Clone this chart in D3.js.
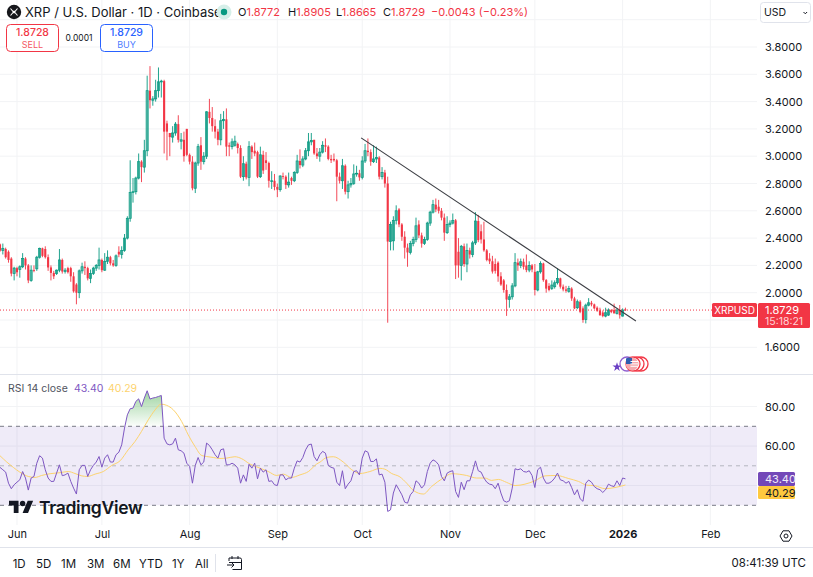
<!DOCTYPE html>
<html>
<head>
<meta charset="utf-8">
<title>XRP / U.S. Dollar</title>
<script src="https://cdn.jsdelivr.net/npm/d3@7/dist/d3.min.js"></script>
<style>
html,body{margin:0;padding:0;background:#fff}
svg{display:block;font-family:Inter,"Noto Sans",sans-serif}
</style>
</head>
<body>
<svg id="chart" width="813" height="577"></svg>
<script>
// Daily candles, one entry per day starting 26 May 2025
const opens = [
2.354,2.31,2.32,2.30,2.25,2.14,2.18,2.17,2.19,2.25,
2.20,2.09,2.165,2.175,2.26,2.325,2.32,2.26,2.185,2.145,
2.14,2.165,2.24,2.155,2.18,2.18,2.12,2.06,2.00,2.16,
2.19,2.18,2.105,2.14,2.18,2.20,2.24,2.165,2.23,2.26,
2.215,2.20,2.30,2.28,2.31,2.40,2.545,2.735,2.74,2.84,
2.96,2.92,3.04,3.48,3.41,3.42,3.48,3.545,3.55,3.24,
3.17,3.14,3.17,3.235,3.11,3.12,3.20,3.01,2.96,2.765,
2.95,3.08,2.96,3.0,3.325,3.28,3.22,3.18,3.12,3.26,
3.27,3.08,3.07,3.08,3.09,3.06,2.85,2.945,2.845,3.07,
3.04,3.03,2.85,3.01,2.97,2.95,2.82,2.82,2.775,2.755,
2.855,2.85,2.79,2.84,2.82,2.88,2.965,2.935,2.98,3.04,
3.105,3.12,3.02,3.0,3.03,3.08,3.07,2.98,2.98,2.97,
2.85,2.82,2.93,2.74,2.79,2.80,2.87,2.875,2.845,2.965,
3.04,3.03,2.96,2.98,2.99,2.85,2.88,2.80,2.375,2.38,
2.53,2.61,2.50,2.41,2.33,2.295,2.36,2.39,2.50,2.42,
2.36,2.39,2.51,2.59,2.645,2.63,2.60,2.55,2.44,2.50,
2.51,2.53,2.30,2.20,2.34,2.21,2.31,2.28,2.365,2.525,
2.45,2.39,2.31,2.25,2.23,2.21,2.22,2.12,2.09,2.02,
1.95,1.97,2.05,2.22,2.20,2.227,2.20,2.166,2.20,2.153,
2.02,2.153,2.214,2.092,2.05,2.03,2.044,2.073,2.105,2.044,
2.024,2.01,2.03,1.958,1.89,1.934,1.885,1.804,1.909,1.926,
1.914,1.89,1.87,1.855,1.829,1.836,1.873,1.873,1.848,1.873,
1.829,1.8772];
const highs = [
2.36,2.36,2.33,2.31,2.26,2.19,2.19,2.20,2.29,2.26,
2.21,2.20,2.20,2.27,2.33,2.33,2.34,2.28,2.20,2.16,
2.17,2.32,2.25,2.18,2.19,2.19,2.15,2.07,2.17,2.22,
2.23,2.19,2.17,2.19,2.21,2.33,2.25,2.29,2.31,2.27,
2.24,2.28,2.34,2.34,2.43,2.56,2.97,2.84,2.85,3.02,
2.97,3.12,3.59,3.66,3.44,3.56,3.65,3.56,3.56,3.26,
3.17,3.22,3.25,3.30,3.17,3.18,3.20,3.02,3.0,2.96,
3.09,3.14,3.03,3.33,3.42,3.36,3.27,3.20,3.31,3.33,
3.35,3.10,3.13,3.15,3.10,3.08,3.0,2.96,3.11,3.08,
3.10,3.04,3.07,3.04,3.03,2.96,2.89,2.87,2.80,2.86,
2.88,2.86,2.88,2.85,2.89,3.01,3.05,3.0,3.06,3.17,
3.17,3.12,3.06,3.06,3.11,3.13,3.08,3.01,3.02,2.98,
2.88,2.98,2.94,2.82,2.84,2.94,2.93,2.90,3.0,3.09,
3.13,3.05,3.08,3.07,3.0,2.92,2.90,2.85,2.52,2.56,
2.64,2.62,2.51,2.45,2.36,2.38,2.41,2.55,2.53,2.44,
2.41,2.52,2.60,2.68,2.69,2.68,2.62,2.58,2.56,2.53,
2.58,2.54,2.40,2.35,2.36,2.36,2.33,2.38,2.59,2.57,
2.50,2.52,2.32,2.29,2.27,2.25,2.23,2.15,2.10,2.06,
1.99,2.07,2.29,2.25,2.25,2.25,2.28,2.23,2.21,2.21,
2.16,2.23,2.22,2.10,2.07,2.09,2.09,2.18,2.11,2.06,
2.05,2.05,2.04,1.97,1.95,1.945,1.90,1.92,1.96,1.94,
1.92,1.90,1.89,1.87,1.89,1.885,1.88,1.92,1.88,1.91,
1.885,1.8905];
const lows = [
2.30,2.28,2.25,2.22,2.12,2.09,2.12,2.11,2.18,2.17,
2.07,2.08,2.15,2.16,2.25,2.26,2.25,2.16,2.09,2.10,
2.13,2.15,2.14,2.14,2.14,2.08,2.00,1.915,1.96,2.14,
2.13,2.09,2.07,2.13,2.16,2.17,2.15,2.16,2.21,2.20,
2.19,2.19,2.26,2.25,2.30,2.39,2.52,2.66,2.72,2.83,
2.81,2.88,3.0,3.35,3.37,3.40,3.43,3.43,3.02,2.97,
3.0,3.10,3.15,3.10,3.05,2.96,3.0,2.94,2.75,2.73,
2.93,2.90,2.94,2.98,3.24,3.18,3.13,3.08,3.08,3.20,
3.0,3.0,3.05,3.07,3.02,2.84,2.82,2.83,2.78,2.98,
3.0,2.84,2.84,2.87,2.90,2.77,2.76,2.75,2.70,2.74,
2.83,2.76,2.77,2.79,2.81,2.87,2.91,2.92,2.97,3.0,
3.08,3.01,2.98,2.96,3.02,3.03,2.97,2.95,2.96,2.67,
2.80,2.76,2.72,2.69,2.77,2.79,2.85,2.82,2.83,2.95,
3.0,2.93,2.95,2.95,2.83,2.83,2.77,1.78,2.31,2.31,
2.50,2.48,2.38,2.25,2.19,2.28,2.34,2.37,2.40,2.33,
2.35,2.38,2.49,2.58,2.59,2.58,2.53,2.38,2.43,2.48,
2.50,2.10,2.11,2.09,2.19,2.15,2.25,2.26,2.35,2.37,
2.36,2.30,2.23,2.21,2.14,2.14,2.08,2.05,2.0,1.83,
1.89,1.95,2.04,2.16,2.18,2.17,2.15,2.15,2.15,1.98,
2.01,2.14,2.08,2.0,2.01,2.02,2.03,2.06,2.03,2.01,
2.0,2.0,1.94,1.88,1.88,1.85,1.78,1.775,1.90,1.90,
1.88,1.86,1.83,1.82,1.82,1.83,1.85,1.85,1.84,1.81,
1.825,1.8665];
const closes = [
2.308,2.325,2.26,2.24,2.14,2.18,2.15,2.19,2.25,2.20,
2.09,2.165,2.16,2.26,2.325,2.27,2.26,2.185,2.145,2.12,
2.165,2.24,2.155,2.165,2.15,2.12,2.01,2.00,2.16,2.19,
2.18,2.105,2.14,2.18,2.20,2.24,2.165,2.23,2.26,2.215,
2.20,2.27,2.28,2.31,2.40,2.545,2.735,2.74,2.84,2.96,
2.92,3.04,3.48,3.41,3.42,3.48,3.545,3.55,3.18,3.18,
3.14,3.17,3.235,3.12,3.12,3.0,3.01,2.96,2.765,2.95,
3.07,2.96,3.0,3.325,3.28,3.22,3.18,3.12,3.26,3.27,
3.07,3.07,3.105,3.11,3.06,2.85,2.945,2.845,3.07,3.03,
3.02,2.85,3.01,2.895,2.95,2.82,2.82,2.775,2.755,2.855,
2.85,2.79,2.81,2.82,2.88,2.965,2.935,2.98,3.04,3.105,
3.115,3.02,3.0,3.03,3.08,3.07,2.98,2.97,2.97,2.85,
2.82,2.93,2.74,2.79,2.80,2.87,2.875,2.845,2.965,3.04,
3.03,2.96,2.98,2.99,2.85,2.88,2.80,2.375,2.50,2.53,
2.60,2.50,2.41,2.33,2.295,2.36,2.39,2.49,2.42,2.36,
2.39,2.51,2.59,2.645,2.61,2.60,2.55,2.44,2.50,2.51,
2.53,2.20,2.20,2.34,2.21,2.31,2.28,2.365,2.525,2.385,
2.39,2.31,2.24,2.23,2.155,2.16,2.12,2.06,2.02,1.95,
1.97,2.05,2.22,2.20,2.227,2.19,2.166,2.20,2.17,2.02,
2.153,2.214,2.092,2.03,2.02,2.056,2.073,2.105,2.044,2.024,
2.014,2.03,1.958,1.885,1.934,1.86,1.80,1.909,1.926,1.914,
1.885,1.868,1.836,1.829,1.853,1.873,1.858,1.848,1.873,1.836,
1.873,1.8729];

// RSI(14) of the close, same daily sequence
const rsi = [
49.2,48.0,46.8,41.2,38.4,40.4,41.7,42.9,47.1,43.8,
37.7,43.8,44.6,51.3,55.1,53.9,48.0,43.8,42.1,42.1,
46.3,50.5,45.0,45.4,46.3,42.1,38.7,35.7,48.0,50.2,
50.2,44.6,48.0,50.2,51.9,54.7,49.3,53.9,55.6,51.9,
51.9,55.6,56.9,60.6,69.1,75.8,78.9,79.2,82.6,83.9,
80.0,84.3,88.0,83.8,84.3,84.6,85.1,85.6,64.0,61.1,
60.6,61.1,64.0,58.1,57.6,56.4,51.3,49.7,41.2,50.2,
54.2,50.5,51.9,61.5,60.3,58.1,55.6,53.9,58.1,58.6,
50.5,50.5,51.3,50.5,48.8,41.2,45.4,42.1,50.8,48.8,
51.3,43.4,48.8,46.8,48.0,42.1,42.4,40.4,40.0,45.4,
45.4,42.9,43.8,43.8,48.8,52.5,51.9,54.2,58.1,60.6,
61.0,54.7,52.5,55.6,57.3,56.4,50.2,49.2,48.8,41.7,
40.0,47.5,38.4,40.7,42.4,47.1,47.5,45.4,53.9,57.6,
56.9,52.2,52.2,53.5,45.4,45.8,41.7,26.9,27.7,36.2,
40.4,37.9,35.3,31.6,31.1,35.3,37.0,42.4,41.2,38.7,
40.4,47.1,51.3,53.0,52.2,50.5,44.6,42.4,46.3,47.1,
47.5,37.0,34.0,41.7,37.9,42.4,42.4,47.1,52.5,47.5,
46.8,43.8,41.7,40.7,40.4,38.4,41.2,36.2,32.3,31.6,
32.3,38.7,48.5,48.0,48.5,47.1,46.8,47.5,45.1,39.0,
48.0,49.3,43.8,41.2,41.2,42.1,43.8,46.3,42.9,42.4,
41.2,42.1,39.0,35.3,37.9,33.3,32.0,41.2,42.8,41.7,
39.5,38.4,37.9,36.5,37.9,40.7,39.9,39.5,42.4,40.0,
43.8,43.40];

// Moving average of the RSI, read at the days listed in maDays
const maDays = [0,2.4,4.7,7,10,12.4,14.7,17.7,21.2,24.1,26.5,28.9,30.9,33.6,36.5,39.5,42.4,45.3,47.7,50,52.4,54.8,56.9,58.9,61.2,64.2,66.5,68.9,71.3,73,75.4,77.7,80.1,83,85.4,88.3,91.9,94.8,97.8,100.1,103,106,109,111.9,113.1,115.4,117.8,121.3,124.3,127.2,130.7,134.3,136,138.4,141.3,143.7,146.1,149.6,152.5,156.6,159.6,164.9,168.4,171.4,173.7,176.1,179,182,185.5,189,192.6,196.7,200.8,204.4,207.3,210.2,213.8,217.3,221];
const maValues = [55.1,51.9,49.2,46.8,44.6,44.1,45.1,46.0,46.5,47.1,46.1,44.9,44.6,45.8,47.1,50.2,52.5,58.1,62.3,67.4,73.3,78.3,81.2,80.6,78.4,72.4,65.7,59.8,55.2,54.7,54.2,53.7,53.9,54.6,53.6,50.9,48.8,47.1,45.1,45.8,44.1,45.4,47.1,50.9,51.9,54.2,54.6,51.9,48.0,46.1,47.1,48.7,48.3,46.1,44.4,41.2,37.5,35.7,39.5,43.8,46.0,45.1,43.8,43.8,42.6,43.1,41.6,40.0,40.7,42.4,44.9,45.1,43.6,42.1,40.2,39.9,38.4,39.0,40.29];

// Hand-drawn resistance line: day offsets and prices of its two anchors
const trendDays = [127.6,224.7];
const trendPrices = [3.134,1.793];

const priceTicks = [1.6,2.0,2.2,2.4,2.6,2.8,3.0,3.2,3.4,3.6,3.8];
const priceGrid = [1.6,1.8,2.0,2.2,2.4,2.6,2.8,3.0,3.2,3.4,3.6,3.8,4.0];
const rsiTicks = [60,80];
const rsiGrid = [40,60,80];
const monthDays = [6,36,67,98,128,159,189,220,251];
const monthLabels = ["Jun","Jul","Aug","Sep","Oct","Nov","Dec","2026","Feb"];
const rangeLabels = ["1D","5D","1M","3M","6M","YTD","1Y","All"];
const rangeX = [12.7,36,61,87,113,139,172,195];

const lastPrice = 1.8729, rsiLast = 43.40, maLast = 40.29;
const UP = "#089981", DOWN = "#f23645", INK = "#131722", GRID = "#f2f3f5";

const paneRight = 757;
const x = d3.scaleLinear().domain([0, 100]).range([0, 283]);
const yPrice = d3.scaleLinear().domain([1.6, 3.8]).range([347.3, 47]);
const yRsi = d3.scaleLinear().domain([30, 70]).range([505.3, 426.3]);

const svg = d3.select("#chart");
const defs = svg.append("defs");
defs.append("clipPath").attr("id", "pane").append("rect")
  .attr("x", 0).attr("y", 0).attr("width", paneRight).attr("height", 374);
const obGrad = defs.append("linearGradient").attr("id", "overbought")
  .attr("gradientUnits", "userSpaceOnUse")
  .attr("x1", 0).attr("x2", 0).attr("y1", yRsi(88)).attr("y2", yRsi(70));
obGrad.append("stop").attr("offset", 0).attr("stop-color", "#4caf50").attr("stop-opacity", .55);
obGrad.append("stop").attr("offset", 1).attr("stop-color", "#4caf50").attr("stop-opacity", .02);
defs.append("clipPath").attr("id", "aboveSeventy").append("rect")
  .attr("x", 0).attr("y", 380).attr("width", paneRight).attr("height", yRsi(70) - 380);

/* ---------- grid ---------- */
const grid = svg.append("g").attr("stroke", GRID).attr("stroke-width", 1).attr("fill", "none");
grid.selectAll("line.h").data(priceGrid).join("line")
  .attr("x1", 0).attr("x2", paneRight)
  .attr("y1", d => yPrice(d)).attr("y2", d => yPrice(d));
grid.selectAll("line.r").data(rsiGrid).join("line")
  .attr("x1", 0).attr("x2", paneRight)
  .attr("y1", d => yRsi(d)).attr("y2", d => yRsi(d));
grid.selectAll("line.v").data(monthDays).join("line")
  .attr("x1", d => x(d)).attr("x2", d => x(d))
  .attr("y1", 0).attr("y2", 525);

/* ---------- candles ---------- */
const candleData = opens.map((o, i) => ({i, o, h: highs[i], l: lows[i], c: closes[i]}));
const candles = svg.append("g").attr("clip-path", "url(#pane)");
const isUp = d => d.c >= d.o;
candles.selectAll("line").data(candleData).join("line")
  .attr("x1", d => x(d.i)).attr("x2", d => x(d.i))
  .attr("y1", d => yPrice(d.h)).attr("y2", d => yPrice(d.l))
  .attr("stroke", d => isUp(d) ? UP : DOWN).attr("stroke-width", 0.9);
candles.selectAll("rect").data(candleData).join("rect")
  .attr("x", d => x(d.i) - 1.05).attr("width", 2.1)
  .attr("y", d => yPrice(Math.max(d.o, d.c)))
  .attr("height", d => Math.max(0.8, Math.abs(yPrice(d.o) - yPrice(d.c))))
  .attr("fill", d => isUp(d) ? "rgba(8,153,129,.35)" : DOWN)
  .attr("stroke", d => isUp(d) ? UP : "none")
  .attr("stroke-width", d => isUp(d) ? 0.75 : 0);

/* ---------- trend line ---------- */
const trendLine = d3.line().x(d => x(d[0])).y(d => yPrice(d[1]));
svg.append("path").attr("d", trendLine(d3.zip(trendDays, trendPrices)))
  .attr("fill", "none").attr("stroke", "#3a3c42").attr("stroke-width", 1.1);

/* ---------- last price marker line ---------- */
svg.append("line").attr("x1", 0).attr("x2", 712)
  .attr("y1", yPrice(lastPrice)).attr("y2", yPrice(lastPrice))
  .attr("stroke", DOWN).attr("stroke-width", 1).attr("stroke-dasharray", "1 2");

/* ---------- event badges ---------- */
const badges = svg.append("g");
badges.append("path").attr("d", d3.symbol(d3.symbolStar, 26)())
  .attr("transform", "translate(617,367)").attr("fill", "#6a3fc4");
badges.append("circle").attr("cx", 627).attr("cy", 364).attr("r", 7)
  .attr("fill", "#fff").attr("stroke", "#8e5fd0").attr("stroke-width", 1.3);
[641, 637, 633].forEach(cx => badges.append("circle")
  .attr("cx", cx).attr("cy", 364).attr("r", 7)
  .attr("fill", "#fff").attr("stroke", DOWN).attr("stroke-width", 1.3));
badges.append("circle").attr("cx", 632).attr("cy", 364).attr("r", 6.4).attr("fill", "#f5a9ae");
badges.append("path").attr("d", "M626 358.5a6.4 6.4 0 0 1 6-.4v6h-6z").attr("fill", "#2f5fb0");
badges.selectAll("rect.s").data([0, 1, 2]).join("rect")
  .attr("x", 630.5).attr("y", d => 361 + d * 2.4).attr("width", 7.5).attr("height", 1).attr("fill", "#fff");

/* ---------- RSI pane ---------- */
svg.append("line").attr("x1", 0).attr("x2", 813).attr("y1", 374.5).attr("y2", 374.5)
  .attr("stroke", "#e0e3eb");
svg.append("rect").attr("x", 0).attr("width", paneRight)
  .attr("y", yRsi(70)).attr("height", yRsi(30) - yRsi(70))
  .attr("fill", "#7e57c2").attr("fill-opacity", .12);
const bands = [[70, "#787b86"], [50, "#b4b6bf"], [30, "#787b86"]];
svg.append("g").selectAll("line").data(bands).join("line")
  .attr("x1", 0).attr("x2", paneRight)
  .attr("y1", d => yRsi(d[0])).attr("y2", d => yRsi(d[0]))
  .attr("stroke", d => d[1]).attr("stroke-dasharray", "4 4");

const rsiArea = d3.area().x((d, i) => x(i)).y0(yRsi(70)).y1(d => yRsi(d));
svg.append("path").attr("d", rsiArea(rsi))
  .attr("fill", "url(#overbought)").attr("clip-path", "url(#aboveSeventy)");

const rsiLine = d3.line().x((d, i) => x(i)).y(d => yRsi(d));
const maLine = d3.line().x(d => x(d[0])).y(d => yRsi(d[1])).curve(d3.curveMonotoneX);
svg.append("path").attr("d", maLine(d3.zip(maDays, maValues)))
  .attr("fill", "none").attr("stroke", "#fdd36e").attr("stroke-width", 1);
svg.append("path").attr("d", rsiLine(rsi))
  .attr("fill", "none").attr("stroke", "#7e57c2").attr("stroke-width", 1);

/* ---------- axes ---------- */
function plainAxis(sel) {
  sel.select(".domain").remove();
  sel.selectAll("text").attr("fill", INK).attr("font-size", 11)
    .attr("font-family", "Inter,'Noto Sans',sans-serif");
}
svg.append("g").attr("transform", "translate(765,0)")
  .call(d3.axisRight(yPrice).tickValues(priceTicks).tickSize(0).tickPadding(0).tickFormat(d3.format(".4f")))
  .call(plainAxis);
const rsiScaleLabels = d3.axisRight(d3.scaleLinear().domain([40, 80]).range([yRsi(40), yRsi(80)]))
  .tickValues(rsiTicks).tickSize(0).tickPadding(0).tickFormat(d3.format(".2f"));
svg.append("g").attr("transform", "translate(765,0)").call(rsiScaleLabels).call(plainAxis);

const timeAxis = d3.axisBottom(x).tickValues(monthDays).tickSize(0).tickPadding(0)
  .tickFormat((d, i) => monthLabels[i]);
svg.append("g").attr("transform", "translate(0,530)").call(timeAxis).call(plainAxis)
  .selectAll("text").attr("font-weight", d => d === 220 ? 700 : 400);

/* ---------- price and indicator tags ---------- */
svg.append("rect").attr("x", 712).attr("y", 303).attr("width", 45).attr("height", 14).attr("rx", 1.5).attr("fill", DOWN);
svg.append("text").attr("x", 734.5).attr("y", 313.8).attr("text-anchor", "middle")
  .attr("font-size", 10).attr("fill", "#fff").text("XRPUSD");
svg.append("rect").attr("x", 758).attr("y", 303).attr("width", 52).attr("height", 25).attr("rx", 1.5).attr("fill", DOWN);
svg.append("text").attr("x", 765).attr("y", 314).attr("font-size", 11).attr("fill", "#fff").text("1.8729");
svg.append("text").attr("x", 765).attr("y", 325).attr("font-size", 10.5).attr("fill", "#ffd3d6").text("15:18:21");
svg.append("rect").attr("x", 758).attr("y", 472).attr("width", 37).attr("height", 14).attr("rx", 1.5).attr("fill", "#7348b8");
svg.append("text").attr("x", 765).attr("y", 482.8).attr("font-size", 11).attr("fill", "#f1ecfa").text(rsiLast.toFixed(2));
svg.append("rect").attr("x", 758).attr("y", 486).attr("width", 37).attr("height", 13).attr("rx", 1.5).attr("fill", "#ffc93f");
svg.append("text").attr("x", 765).attr("y", 496.5).attr("font-size", 11).attr("fill", INK).text(maLast.toFixed(2));

/* ---------- header ---------- */
svg.append("circle").attr("cx", 14).attr("cy", 12).attr("r", 7.2).attr("fill", "#16171b");
svg.append("path").attr("d", "M10.5 8.5 12.6 11a2 2 0 0 0 2.8 0l2.1-2.5M10.5 15.5 12.6 13a2 2 0 0 1 2.8 0l2.1 2.5")
  .attr("fill", "none").attr("stroke", "#fff").attr("stroke-width", 1.1);
svg.append("text").attr("x", 25).attr("y", 16.5).attr("font-size", 13).attr("fill", INK)
  .text("XRP / U.S. Dollar · 1D · Coinbase");
svg.append("circle").attr("cx", 224).attr("cy", 12).attr("r", 7.5).attr("fill", "#d6efe9");
svg.append("circle").attr("cx", 224).attr("cy", 12).attr("r", 3.2).attr("fill", UP);

const ohlc = svg.append("text").attr("y", 16).attr("font-size", 11).attr("fill", INK);
ohlc.append("tspan").attr("x", 238).text("O");
ohlc.append("tspan").attr("fill", DOWN).text("1.8772");
ohlc.append("tspan").attr("x", 288).text("H");
ohlc.append("tspan").attr("fill", DOWN).text("1.8905");
ohlc.append("tspan").attr("x", 336).text("L");
ohlc.append("tspan").attr("fill", DOWN).text("1.8665");
ohlc.append("tspan").attr("x", 383).text("C");
ohlc.append("tspan").attr("fill", DOWN).text("1.8729");
ohlc.append("tspan").attr("x", 431).attr("fill", DOWN).text("−0.0043 (−0.23%)");

function tradeBox(bx, colour, price, label) {
  svg.append("rect").attr("x", bx + .5).attr("y", 24.5).attr("width", 52).attr("height", 27).attr("rx", 4)
    .attr("fill", "#fff").attr("stroke", colour);
  svg.append("text").attr("x", bx + 26.5).attr("y", 36).attr("text-anchor", "middle")
    .attr("font-size", 10.5).attr("font-weight", 500).attr("fill", colour).text(price);
  svg.append("text").attr("x", bx + 26.5).attr("y", 47.5).attr("text-anchor", "middle")
    .attr("font-size", 9).attr("fill", colour).attr("fill-opacity", .85).text(label);
}
tradeBox(6, DOWN, "1.8728", "SELL");
tradeBox(100, "#2962ff", "1.8729", "BUY");
svg.append("text").attr("x", 79).attr("y", 41).attr("text-anchor", "middle")
  .attr("font-size", 8.5).attr("fill", INK).text("0.0001");

svg.append("rect").attr("x", 760.5).attr("y", 2.5).attr("width", 50).attr("height", 20).attr("rx", 3)
  .attr("fill", "#fff").attr("stroke", "#e0e3eb");
svg.append("text").attr("x", 764).attr("y", 16).attr("font-size", 10.5).attr("fill", INK).text("USD");
svg.append("path").attr("d", "M803.5 12l1.8 1.8 1.8-1.8").attr("fill", "none").attr("stroke", INK);

/* ---------- RSI legend ---------- */
const legend = svg.append("text").attr("x", 8).attr("y", 392).attr("font-size", 10.5);
legend.append("tspan").attr("fill", "#50535e").text("RSI 14 close");
legend.append("tspan").attr("x", 74).attr("fill", "#7e57c2").text(rsiLast.toFixed(2));
legend.append("tspan").attr("x", 108).attr("fill", "#fdd36e").text(maLast.toFixed(2));

/* ---------- brand mark ---------- */
const logo = svg.append("g").attr("transform", "translate(9,498) scale(.68)").attr("fill", INK);
logo.append("path").attr("d", "M14 22H7V11H0V4h14v18zM28 22h-8l7.5-18h8L28 22z");
logo.append("circle").attr("cx", 20).attr("cy", 8).attr("r", 4);
svg.append("text").attr("x", 39).attr("y", 514).attr("font-size", 17.5).attr("font-weight", 600)
  .attr("fill", INK).attr("letter-spacing", -0.3).text("TradingView");

/* ---------- bottom toolbar ---------- */
svg.append("line").attr("x1", 0).attr("x2", 813).attr("y1", 547.5).attr("y2", 547.5).attr("stroke", "#e0e3eb");
svg.append("g").selectAll("text").data(rangeLabels).join("text")
  .attr("x", (d, i) => rangeX[i]).attr("y", 568).attr("font-size", 11.5).attr("fill", INK).text(d => d);
svg.append("line").attr("x1", 215.5).attr("x2", 215.5).attr("y1", 554).attr("y2", 572).attr("stroke", "#e0e3eb");
svg.append("path").attr("d", "M229 558h11a1.5 1.5 0 0 1 1.5 1.5v10h-9M229 562.5h12M232 556v3M238 556v3M227 565h7M231.5 562.5l2.5 2.5-2.5 2.5M229 558v3")
  .attr("fill", "none").attr("stroke", INK).attr("stroke-width", 1);
svg.append("text").attr("x", 806).attr("y", 567).attr("text-anchor", "end")
  .attr("font-size", 11.5).attr("fill", INK).text("08:41:39 UTC");

// Settings hexagon beside the time scale
const hexagon = d3.line().curve(d3.curveLinearClosed)(d3.range(6).map(k => {
  const a = k * Math.PI / 3;
  return [786 + 6 * Math.cos(a), 536 + 6 * Math.sin(a)];
}));
svg.append("path").attr("d", hexagon).attr("fill", "none").attr("stroke", INK).attr("stroke-width", 1);
svg.append("circle").attr("cx", 786).attr("cy", 536).attr("r", 2).attr("fill", "none").attr("stroke", INK);
</script>
</body>
</html>
